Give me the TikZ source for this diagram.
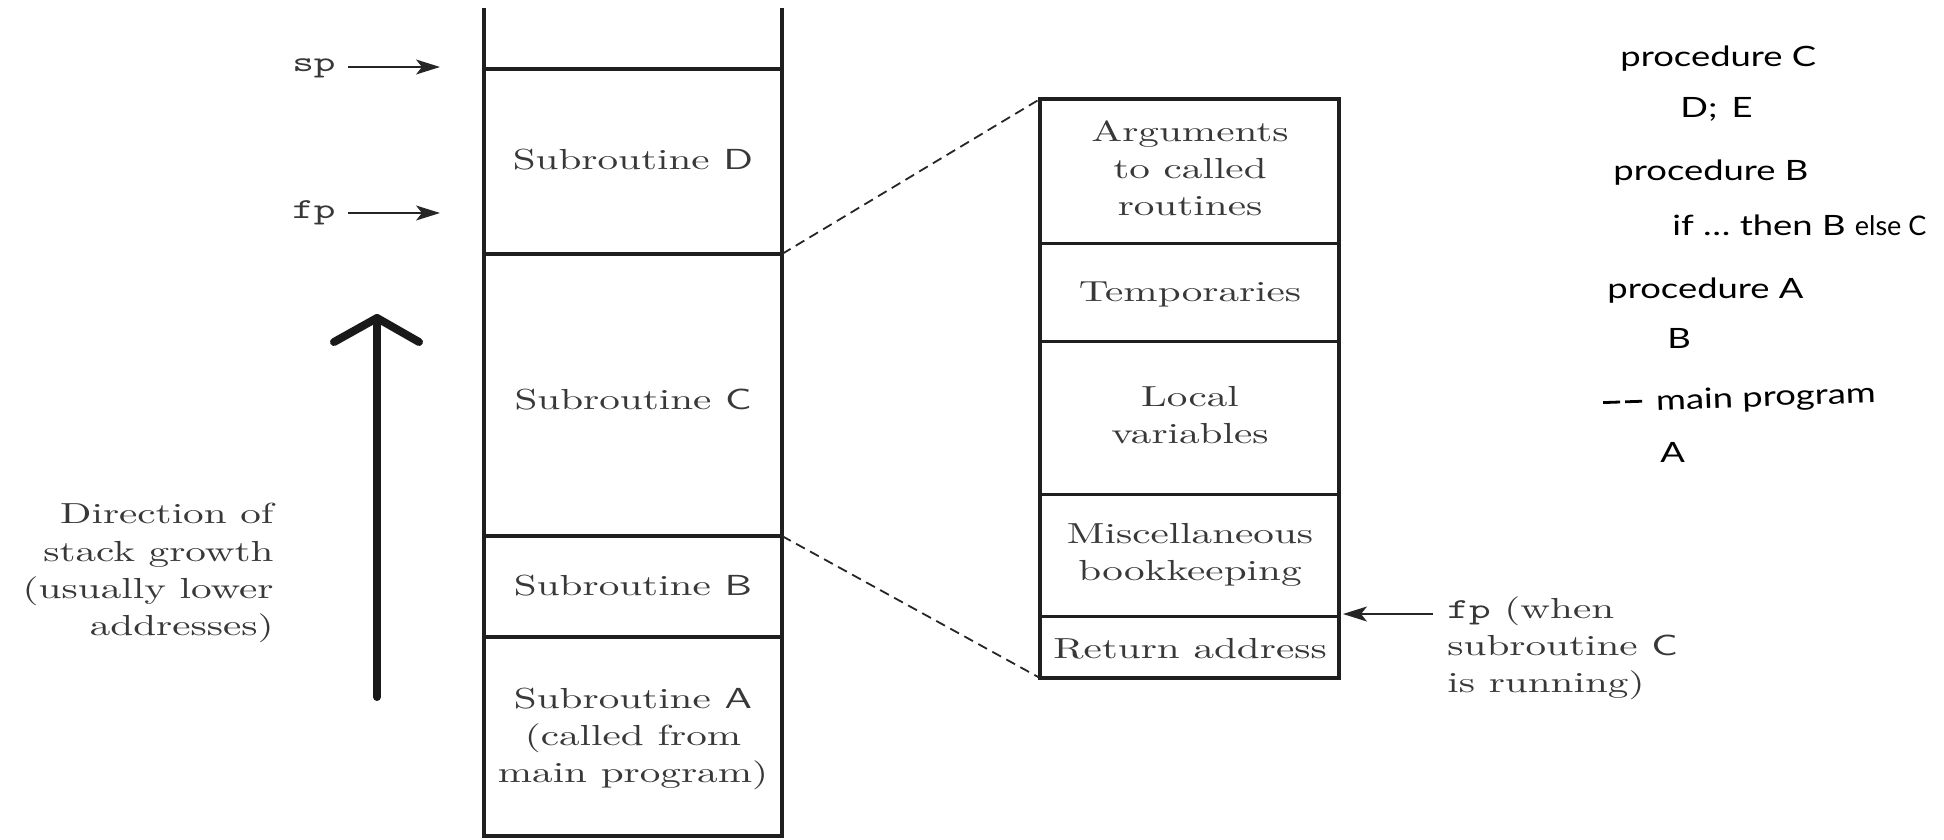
\documentclass[tikz,border=0pt]{standalone}
\usepackage{fontspec}
\setmainfont{lmroman10-regular.otf}[FakeStretch=1.42]
\setsansfont{lmsans10-regular.otf}[FakeStretch=1.42]
\setmonofont{lmmono10-regular.otf}[FakeStretch=1.42]
\newfontfamily\codefont{Lato}[FakeStretch=1.3]
\newfontfamily\codenarrow{Lato}
\usetikzlibrary{arrows.meta}
% comment dash of the program text
\newcommand\cdash{\rule[4pt]{8.5pt}{1.4pt}}

\begin{document}
\begin{tikzpicture}[x=0.5pt, y=-0.5pt,
  lbl/.style={text=black!78, font=\fontsize{14.5}{18.6}\selectfont, align=center, inner sep=0pt},
  ptr/.style={-{Stealth[length=12pt,width=7.5pt,inset=3pt]}, line width=0.6pt, draw=black!85},
  stk/.style={line width=1.6pt, draw=black!88},
  frameout/.style={line width=2pt, draw=black!88},
  framein/.style={line width=1.5pt, draw=black!88},
  zoomline/.style={dash pattern=on 5pt off 3pt, line width=0.9pt, draw=black!85},
  growth/.style={line width=4pt, draw=black!90, line cap=round, line join=round},
  code/.style={font=\codefont\fontsize{14}{16}\selectfont, anchor=base west, inner sep=0pt}]
\useasboundingbox (0,0) rectangle (1944,840);

% ---- run-time stack ----
\coordinate (stl) at (484,8);   \coordinate (str) at (782,8);
\coordinate (sbl) at (484,836); \coordinate (sbr) at (782,836);
\draw[stk] (stl) -- (sbl) -- (sbr) -- (str);
\coordinate (spl) at (484,69);  \coordinate (spr) at (782,69);
\coordinate (dcl) at (484,254); \coordinate (dcr) at (782,254);
\coordinate (cbl) at (484,536); \coordinate (cbr) at (782,536);
\coordinate (bal) at (484,637); \coordinate (bar) at (782,637);
\draw[stk] (spl) -- (spr);
\draw[stk] (dcl) -- (dcr);
\draw[stk] (cbl) -- (cbr);
\draw[stk] (bal) -- (bar);

\node[lbl] (subD) at (633,160) {Subroutine \textsf{D}};
\node[lbl] (subC) at (633,400) {Subroutine \textsf{C}};
\node[lbl] (subB) at (633,586) {Subroutine \textsf{B}};
\node[lbl] (subA) at (633,739) {Subroutine \textsf{A}\\(called from\\main program)};

% ---- stack and frame pointers ----
\node[lbl, anchor=east] (sp) at (336,68) {\texttt{sp}};
\node[lbl, anchor=east] (fp) at (336,213) {\texttt{fp}};
\coordinate (sptip) at (440,67);
\coordinate (fptip) at (440,213);
\draw[ptr] (sp.east |- sptip) ++(12,0) -- (sptip);
\draw[ptr] (fp.east |- fptip) ++(12,0) -- (fptip);

% ---- direction of growth ----
\coordinate (gbot) at (377,697);
\coordinate (gtop) at (377,318);
\coordinate (gwl) at (334,342);
\coordinate (gwr) at (419,342);
\draw[growth] (gbot) -- (gtop);
\draw[growth] (gwl) -- (gtop) -- (gwr);
\node[lbl, anchor=east, align=right] (dir) at (274,573)
  {Direction of\\stack growth\\(usually lower\\addresses)};

% ---- frame of subroutine C ----
\coordinate (ftl) at (1040,99);  \coordinate (ftr) at (1339,99);
\coordinate (fbl) at (1040,678); \coordinate (fbr) at (1339,678);
\draw[framein] (1040,243) -- (1339,243);
\draw[framein] (1040,341) -- (1339,341);
\draw[framein] (1040,494) -- (1339,494);
\draw[framein] (1040,616) -- (1339,616);
\draw[frameout] (ftl) rectangle (fbr);

\node[lbl] (args) at (1190,168) {Arguments\\to called\\routines};
\node[lbl] (temp) at (1190,294) {Temporaries};
\node[lbl] (locv) at (1190,415) {Local\\variables};
\node[lbl] (misc) at (1190,555) {Miscellaneous\\bookkeeping};
\node[lbl] (ret)  at (1190,649) {Return address};

\draw[zoomline] (dcr) -- (ftl);
\draw[zoomline] (cbr) -- (fbl);

\coordinate (fpctip) at (1343,614);
\node[lbl, anchor=west, align=left] (fpc) at (1447,648)
  {\texttt{fp} (when\\subroutine \textsf{C}\\is running)};
\draw[ptr] (fpc.west |- fpctip) ++(-14,0) -- (fpctip);

% ---- program text ----
\node[code] (pc)  at (1620,67)  {procedure C};
\node[code] (pcb) at (1680,118) {D;\enspace E};
\node[code] (pb)  at (1613,180) {procedure B};
\node[code] (pbb) at (1672,235) {if \ldots\ then B {\codenarrow\fontsize{13.5}{15}\selectfont else C}};
\node[code] (pa)  at (1607,298) {procedure A};
\node[code] (pab) at (1667,348) {B};
\node[code, rotate=2] (pm) at (1603,412) {\cdash\kern2.5pt\cdash\kern7pt main program};
\node[code] (pmb) at (1660,462) {A};
\end{tikzpicture}
\end{document}
